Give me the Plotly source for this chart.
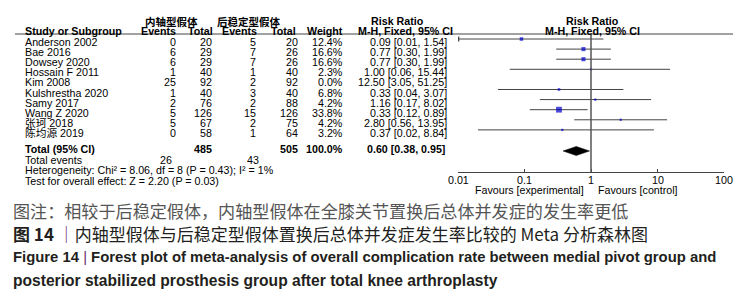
import math
import plotly.graph_objects as go

# ---------------- data ----------------
studies = ["Anderson 2002", "Bae 2016", "Dowsey 2020", "Hossain F 2011", "Kim 2008",
           "Kulshrestha 2020", "Samy 2017", "Wang Z 2020", "张珂 2018", "陈均源 2019"]
events_mp = [0, 6, 6, 1, 25, 1, 2, 5, 5, 0]
total_mp = [20, 29, 29, 40, 92, 40, 76, 126, 67, 58]
events_ps = [5, 7, 7, 1, 2, 3, 2, 15, 2, 1]
total_ps = [20, 26, 26, 40, 92, 40, 88, 126, 75, 64]
weights = [12.4, 16.6, 16.6, 2.3, 0.0, 6.8, 4.2, 33.8, 4.2, 3.2]
rr = [0.09, 0.77, 0.77, 1.00, 12.50, 0.33, 1.16, 0.33, 2.80, 0.37]
rr_lo = [0.01, 0.30, 0.30, 0.06, 3.05, 0.04, 0.17, 0.12, 0.56, 0.02]
rr_hi = [1.54, 1.99, 1.99, 15.44, 51.25, 3.07, 8.02, 0.89, 13.95, 8.84]

total_n_mp = 485
total_n_ps = 505
total_weight = 100.0
total_events_mp = 26
total_events_ps = 43
pooled = [0.60, 0.38, 0.95]
heterogeneity = "Heterogeneity: Chi² = 8.06, df = 8 (P = 0.43); I² = 1%"
overall_test = "Test for overall effect: Z = 2.20 (P = 0.03)"
tick_vals = [0.01, 0.1, 1, 10, 100]
tick_text = ["0.01", "0.1", "1", "10", "100"]

# ---------------- layout helpers ----------------
W, H = 750, 296
FONT = "Liberation Sans, Arial, sans-serif"
CJK = "Noto Sans CJK SC, sans-serif"
FS = 10.7
LINE = "#444444"


def px(x):
    return x / W


def py(y):
    return 1 - y / H


annotations = []


def text(x, y, s, anchor="left", bold=False, size=FS, color="#000000", family=FONT):
    if bold:
        s = "<b>" + s + "</b>"
    annotations.append(dict(x=px(x), y=py(y), xref="paper", yref="paper", text=s,
                            showarrow=False, xanchor=anchor, yanchor="middle", borderpad=0,
                            font=dict(family=family, size=size, color=color)))


fig = go.Figure()

# ---------------- table text ----------------
text(171, 21, "内轴型假体", "center", bold=True, size=10.5, family=CJK)
text(249, 21, "后稳定型假体", "center", bold=True, size=10.5, family=CJK)
text(397, 21, "Risk Ratio", "center", bold=True)
text(592, 21, "Risk Ratio", "center", bold=True)
text(24, 31, "Study or Subgroup", bold=True)
text(158, 31, "Events", "center", bold=True)
text(200, 31, "Total", "center", bold=True)
text(239, 31, "Events", "center", bold=True)
text(283, 31, "Total", "center", bold=True)
text(325, 31, "Weight", "center", bold=True)
text(405, 31, "M-H, Fixed, 95% CI", "center", bold=True)
text(592, 31, "M-H, Fixed, 95% CI", "center", bold=True)

for i, s in enumerate(studies):
    y = 42 + 10.1 * i
    text(24, y, s, family=FONT + ", " + CJK)
    text(177, y, str(events_mp[i]), "right")
    text(213, y, str(total_mp[i]), "right")
    text(257, y, str(events_ps[i]), "right")
    text(299, y, str(total_ps[i]), "right")
    text(344, y, f"{weights[i]:.1f}%", "right")
    text(448, y, f"{rr[i]:.2f} [{rr_lo[i]:.2f}, {rr_hi[i]:.2f}]", "right")

text(24, 149, "Total (95% CI)", bold=True)
text(213, 149, str(total_n_mp), "right", bold=True)
text(299, 149, str(total_n_ps), "right", bold=True)
text(344, 149, f"{total_weight:.1f}%", "right", bold=True)
text(446, 149, f"{pooled[0]:.2f} [{pooled[1]:.2f}, {pooled[2]:.2f}]", "right", bold=True)
text(24, 160, "Total events")
text(173, 160, str(total_events_mp), "right")
text(260, 160, str(total_events_ps), "right")
text(24, 170, heterogeneity)
text(24, 181, overall_test)
text(585, 190, "Favours [experimental]", "right")
text(597, 190, "Favours [control]", "left")

# tick labels of the log axis (placed through the x axis scale)
for v, t in zip(tick_vals, tick_text):
    annotations.append(dict(x=math.log10(v), xref="x", y=py(179.5), yref="paper", text=t,
                            showarrow=False, xanchor="center", yanchor="middle", borderpad=0,
                            font=dict(family=FONT, size=FS, color="#000000")))

# ---------------- captions ----------------
text(12, 210, "图注：相较于后稳定假体，内轴型假体在全膝关节置换后总体并发症的发生率更低",
     size=17.1, color="#555555", family=CJK)
text(12, 233, "<b>图 14</b> <span style='color:#6b2c6b'>｜</span>内轴型假体与后稳定型假体置换后总体并发症发生率比较的 Meta 分析森林图",
     size=17.0, color="#231f20", family=CJK)
NARROW = "Liberation Sans Narrow, Arial Narrow, sans-serif"
text(12, 257, "<b>Figure 14</b> <span style='color:#6b2c6b'>|</span> <b>Forest plot of meta-analysis of overall complication rate between medial pivot group and</b>",
     size=14.85, color="#231f20", family=NARROW)
text(12, 280, "posterior stabilized prosthesis group after total knee arthroplasty",
     bold=True, size=15.6, color="#231f20", family=NARROW)

# ---------------- forest plot ----------------
for i in range(len(studies)):
    if weights[i] <= 0:
        continue
    fig.add_trace(go.Scatter(x=[rr_lo[i], rr_hi[i]], y=[i, i], mode="lines",
                             line=dict(color=LINE, width=1), hoverinfo="skip", showlegend=False))
    if rr_lo[i] <= tick_vals[0]:
        fig.add_trace(go.Scatter(x=[rr_lo[i]], y=[i], mode="markers",
                                 marker=dict(symbol="triangle-left", size=5, color=LINE),
                                 hoverinfo="skip", showlegend=False))

fig.add_trace(go.Scatter(
    x=[rr[i] for i in range(len(studies)) if weights[i] > 0],
    y=[i for i in range(len(studies)) if weights[i] > 0],
    mode="markers",
    marker=dict(symbol="square", color="#0000cc",
                size=[max(2.2, 1.0 * weights[i] ** 0.5) for i in range(len(studies)) if weights[i] > 0],
                line=dict(width=0)),
    hoverinfo="skip", showlegend=False))

drow = 11.09
fig.add_trace(go.Scatter(x=[pooled[1], pooled[0], pooled[2], pooled[0], pooled[1]],
                         y=[drow, drow - 0.45, drow, drow + 0.45, drow],
                         mode="lines", fill="toself", fillcolor="#000000",
                         line=dict(color="#000000", width=0.5), hoverinfo="skip", showlegend=False))

shapes = [
    dict(type="line", xref="paper", yref="paper", x0=px(15), x1=px(733), y0=py(34), y1=py(34),
         line=dict(color=LINE, width=1)),
    dict(type="line", xref="x", yref="y domain", x0=1, x1=1, y0=0, y1=1,
         line=dict(color="#555555", width=1.5)),
]

fig.update_layout(
    width=W, height=H, margin=dict(l=0, r=0, t=0, b=0),
    paper_bgcolor="white", plot_bgcolor="white",
    annotations=annotations, shapes=shapes, showlegend=False,
    xaxis=dict(type="log", range=[-2, 2], domain=[px(458), px(724)],
               showline=True, linecolor=LINE, linewidth=1,
               ticks="inside", ticklen=3, tickcolor=LINE,
               tickvals=tick_vals, showticklabels=False,
               showgrid=False, zeroline=False),
    yaxis=dict(domain=[py(172), py(34)], range=[13.17, -0.495], visible=False,
               showgrid=False, zeroline=False),
)

fig.write_html("out.html", config={"displayModeBar": False},
               post_script="document.body.style.margin='0px';")
